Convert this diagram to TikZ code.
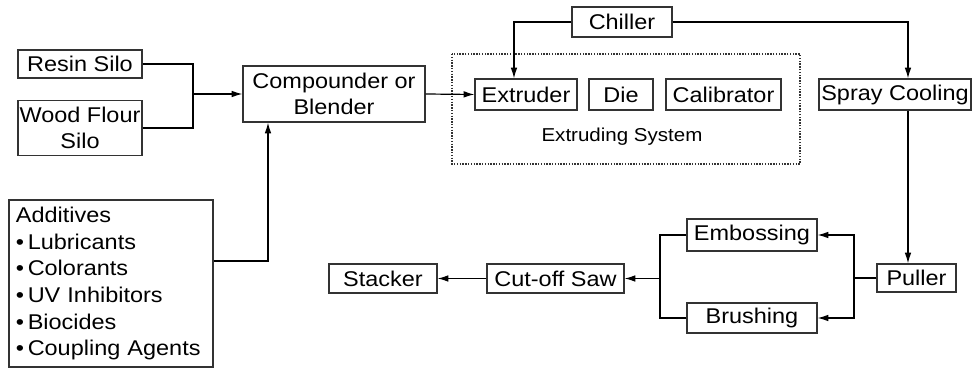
\documentclass[tikz,border=0pt]{standalone}
\usepackage{fontspec}
\setmainfont{Liberation Sans}[FakeStretch=1.1]
\usetikzlibrary{arrows.meta}
\tikzset{
	box/.style={draw=black!80, line width=1pt, inner sep=0pt, align=center, font=\fontsize{16}{19.5}\selectfont},
	arr/.style={-{Latex[length=8pt, width=5pt]}, line width=0.9pt},
	con/.style={line width=0.9pt}
}
\begin{document}
\begin{tikzpicture}[x=0.75pt, y=-0.75pt]
		\useasboundingbox (0, 0) rectangle (972, 370);
		
		\node[box, minimum width=124*0.75pt, minimum height=28*0.75pt] (resin) at (80, 64) {Resin Silo};
		\node[box, minimum width=124*0.75pt, minimum height=55*0.75pt] (wood) at (80, 128) {Wood Flour\\Silo};
		\node[box, minimum width=182*0.75pt, minimum height=56*0.75pt] (comp) at (334, 94) {Compounder or\\Blender};
		\node[box, text width=190*0.75pt, minimum height=167*0.75pt, inner xsep=7*0.75pt, align=left, font=\fontsize{16}{20}\selectfont] (add) at (111, 283.5)
			{Additives\\\textbullet\,Lubricants\\\textbullet\,Colorants\\\textbullet\,UV Inhibitors\\\textbullet\,Biocides\\\textbullet\,Coupling Agents};
		
		\node[box, minimum width=100*0.75pt, minimum height=30*0.75pt] (chiller) at (622, 22) {Chiller};
		\node[box, minimum width=102*0.75pt, minimum height=31*0.75pt] (extruder) at (526, 94.5) {Extruder};
		\node[box, minimum width=64*0.75pt, minimum height=31*0.75pt] (die) at (621, 94.5) {Die};
		\node[box, minimum width=115*0.75pt, minimum height=31*0.75pt] (calib) at (723.5, 94.5) {Calibrator};
		\draw[densely dotted, line width=1.1pt, black!80] (452, 54) rectangle (800, 164);
		\node[font=\fontsize{14}{16}\selectfont] (systext) at (622, 137) {Extruding System};
		\node[box, minimum width=152*0.75pt, minimum height=31*0.75pt] (spray) at (895, 94.5) {Spray Cooling};
		
		\node[box, minimum width=79*0.75pt, minimum height=28*0.75pt] (puller) at (916.5, 278) {Puller};
		\node[box, minimum width=130*0.75pt, minimum height=32*0.75pt] (emboss) at (752, 235) {Embossing};
		\node[box, minimum width=130*0.75pt, minimum height=30*0.75pt] (brush) at (752, 318) {Brushing};
		\node[box, minimum width=137*0.75pt, minimum height=29*0.75pt] (saw) at (555.5, 278.5) {Cut-off Saw};
		\node[box, minimum width=108*0.75pt, minimum height=29*0.75pt] (stacker) at (383, 278.5) {Stacker};
		
		% feed lines
		\coordinate (jn) at (193, 94);
		\draw[con] (resin.east) -| (jn);
		\draw[con] (wood.east) -| (jn);
		\draw[arr] (jn) -- (comp.west);
		\coordinate (ja) at (268, 261);
		\draw[arr] (ja -| add.east) -- (ja) -- (ja |- comp.south);
		\draw[arr] (comp.east) -- (extruder.west);
		
		% chiller loop
		\draw[arr] (chiller.west) -| ([xshift=-12*0.75pt]extruder.north);
		\draw[arr] (chiller.east) -| ([xshift=13*0.75pt]spray.north);
		\draw[arr] ([xshift=13*0.75pt]spray.south) -- ([xshift=13*0.75pt]spray.south |- puller.north);
		
		% finishing
		\coordinate (jp) at (854, 278);
		\draw[con] (puller.west) -- (jp);
		\draw[arr] (jp) |- (emboss.east);
		\draw[arr] (jp) |- (brush.east);
		\coordinate (js) at (660, 278.5);
		\draw[con] (emboss.west) -| (js);
		\draw[con] (brush.west) -| (js);
		\draw[arr] (js) -- (saw.east);
		\draw[arr] (saw.west) -- (stacker.east);
	\end{tikzpicture}
\end{document}
